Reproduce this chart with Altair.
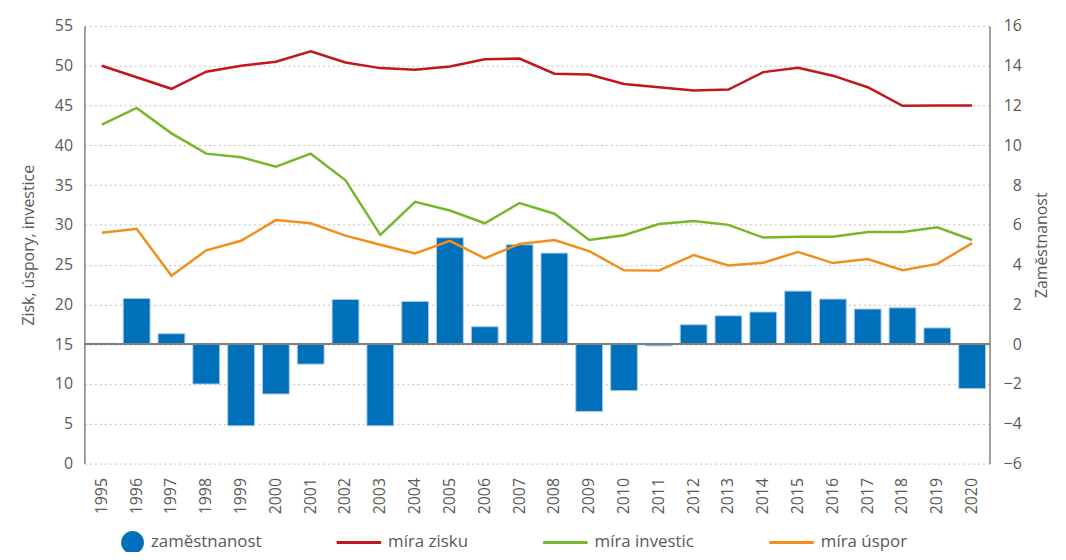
import altair as alt
import pandas as pd

years = list(range(1995, 2021))
zamestnanost = [0.05, 2.3, 0.53, -2.0, -4.1, -2.5, -1.0, 2.25, -4.1, 2.15, 5.35, 0.88, 5.0,
                4.58, -3.38, -2.33, -0.08, 0.98, 1.43, 1.62, 2.67, 2.27, 1.77, 1.83, 0.82, -2.23]
mira_zisku = [50.0, 48.55, 47.1, 49.25, 50.0, 50.5, 51.8, 50.4, 49.7, 49.5, 49.9, 50.8, 50.9,
              49.0, 48.9, 47.7, 47.3, 46.9, 47.0, 49.2, 49.75, 48.75, 47.3, 44.96, 45.0, 45.0]
mira_investic = [42.6, 44.7, 41.5, 38.95, 38.5, 37.3, 38.95, 35.6, 28.75, 32.9, 31.8, 30.2, 32.75,
                 31.4, 28.1, 28.7, 30.1, 30.5, 30.0, 28.4, 28.5, 28.5, 29.1, 29.1, 29.7, 28.1]
mira_uspor = [29.0, 29.5, 23.6, 26.8, 28.0, 30.6, 30.2, 28.65, 27.5, 26.4, 28.0, 25.8, 27.6,
              28.1, 26.7, 24.3, 24.25, 26.2, 24.9, 25.25, 26.6, 25.2, 25.7, 24.3, 25.1, 27.7]

series_names = ["zaměstnanost", "míra zisku", "míra investic", "míra úspor"]
series_colors = ["#0070BA", "#C3161C", "#76B82A", "#F18F1C"]

FONT = "Open Sans"
GRAY = "#595959"
AXIS_GRAY = "#808080"

bar_df = pd.DataFrame({"year": years, "value": zamestnanost})
lines_df = pd.DataFrame({
    "year": years * 3,
    "value": mira_zisku + mira_investic + mira_uspor,
    "series": [series_names[1]] * 26 + [series_names[2]] * 26 + [series_names[3]] * 26,
})
legend_df = pd.concat([
    pd.DataFrame({"year": years, "value": zamestnanost, "series": series_names[0]}),
    lines_df,
])

x_enc = alt.X("year:O", scale=alt.Scale(paddingInner=0.23, paddingOuter=0.115),
              axis=alt.Axis(labelAngle=-90, domain=False, ticks=False, grid=False,
                            labelPadding=14, labelFontSize=16, title=None))

left_scale = alt.Scale(domain=[0, 55], nice=False, zero=False)
right_scale = alt.Scale(domain=[-6, 16], nice=False, zero=False)

left_axis = alt.Axis(orient="left", values=list(range(0, 56, 5)), grid=True, gridDash=[2, 3],
                     gridColor="#bdbdbd", gridWidth=1, domain=True, domainColor=AXIS_GRAY,
                     domainWidth=1.5, ticks=False, labelPadding=12, labelFontSize=16,
                     title="Zisk, úspory, investice", titlePadding=18, titleFontSize=16)
right_axis = alt.Axis(orient="right", values=list(range(-6, 17, 2)), grid=False, domain=True,
                      domainColor=AXIS_GRAY, domainWidth=1.5, ticks=False, labelPadding=32,
                      labelAlign="right", labelFontSize=16, title="Zaměstnanost",
                      titlePadding=28, titleFontSize=16, titleAngle=270)

bars = alt.Chart(bar_df).mark_bar(color=series_colors[0], stroke="#A9CCEA", strokeWidth=1).encode(
    x=x_enc,
    y=alt.Y("value:Q", scale=right_scale, axis=right_axis),
)

zero_rule = alt.Chart(bar_df).mark_rule(color=AXIS_GRAY, strokeWidth=1.5).encode(
    y=alt.datum(0, scale=right_scale, axis=None),
)

line_layers = []
for i, name in enumerate(series_names[1:]):
    axis = left_axis if i == 0 else None
    line_layers.append(
        alt.Chart(lines_df).transform_filter(alt.datum.series == name)
        .mark_line(color=series_colors[i + 1], strokeWidth=2.5)
        .encode(x=x_enc, y=alt.Y("value:Q", scale=left_scale, axis=axis))
    )

line_path = "M-2.9,-0.13L1,-0.13L1,0.13L-2.9,0.13Z"
legend = alt.Legend(orient="none", legendX=37, legendY=509, direction="horizontal", columns=4,
                    columnPadding=75, labelOffset=7, symbolSize=529, symbolOpacity=1,
                    symbolStrokeWidth=0, title=None, labelFontSize=17, labelColor=GRAY,
                    labelFont=FONT, gridAlign="none", labelLimit=300)

legend_layer = alt.Chart(legend_df).mark_point(filled=True, opacity=0).encode(
    x=x_enc,
    y=alt.Y("value:Q", scale=alt.Scale(domain=[-6, 55]), axis=None),
    color=alt.Color("series:N", scale=alt.Scale(domain=series_names, range=series_colors),
                    legend=legend),
    shape=alt.Shape("series:N", scale=alt.Scale(domain=series_names,
                                                range=["circle", line_path, line_path, line_path]),
                    legend=legend),
)

chart = alt.layer(bars, zero_rule, *line_layers, legend_layer).resolve_scale(
    y="independent"
).properties(
    width=912, height=441,
    padding={"left": 77, "top": 16, "right": 69, "bottom": 87},
    autosize=alt.AutoSizeParams(type="none"),
).configure_view(stroke=None).configure_axis(
    labelFont=FONT, titleFont=FONT, labelColor=GRAY, titleColor=GRAY, titleFontWeight="normal"
).configure_legend(labelFont=FONT)

chart.save("out.html", embed_options={"renderer": "svg", "actions": False})
